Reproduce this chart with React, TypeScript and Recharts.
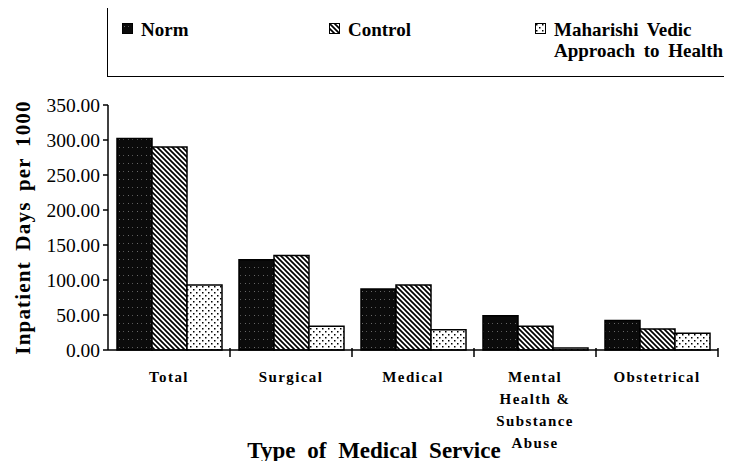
import { BarChart, Bar, XAxis, YAxis, Legend, Label } from "recharts"

const categories = ["Total", "Surgical", "Medical", "Mental Health & Substance Abuse", "Obstetrical"]
const tickLines = [["Total"], ["Surgical"], ["Medical"], ["Mental", "Health &", "Substance", "Abuse"], ["Obstetrical"]]
const normValues = [302, 129, 87, 49, 42]
const controlValues = [290, 135, 93, 34, 30]
const mvahValues = [93, 34, 29, 3, 24]
const yTicks = [0, 50, 100, 150, 200, 250, 300, 350]

const seriesNames = ["Norm", "Control", "Maharishi Vedic Approach to Health"]

const data = categories.map((c, i) => ({
  name: c,
  norm: normValues[i],
  control: controlValues[i],
  mvah: mvahValues[i],
}))

const serif = "Liberation Serif, DejaVu Serif, serif"

function Patterns() {
  return (
    <svg width={0} height={0} style={{ position: "absolute" }}>
      <defs>
        <pattern id="pNorm" patternUnits="userSpaceOnUse" width={9} height={8}>
          <rect width={9} height={8} fill="#0b0b0b" />
          <rect x={2} y={3} width={1} height={1} fill="#6a6a6a" />
          <rect x={6} y={3} width={1} height={1} fill="#555" />
        </pattern>
        <pattern id="pControl" patternUnits="userSpaceOnUse" width={5} height={5}>
          <rect width={5} height={5} fill="#fff" />
          <path d="M-1,-1 L6,6 M-1,4 L1,6 M4,-1 L6,1" stroke="#000" strokeWidth={1.7} />
        </pattern>
        <pattern id="pMvah" patternUnits="userSpaceOnUse" width={6} height={6}>
          <rect width={6} height={6} fill="#fff" />
          <rect x={1} y={1} width={1.5} height={1.5} fill="#000" />
          <rect x={4} y={4} width={1.5} height={1.5} fill="#000" />
        </pattern>
      </defs>
    </svg>
  )
}

function LegendBox() {
  const item = (left: number, fill: string, lines: string[]) => (
    <div style={{ position: "absolute", left, top: 13 }}>
      <svg width={11} height={11} style={{ position: "absolute", left: 0, top: 2 }}>
        <rect x={0.5} y={0.5} width={10} height={10} fill={fill} stroke="#000" />
      </svg>
      <div style={{ position: "absolute", left: 19, top: -2, whiteSpace: "nowrap", fontFamily: serif, fontWeight: 700, fontSize: 19, lineHeight: "21px", wordSpacing: 4 }}>
        {lines.map((l, i) => <div key={i}>{l}</div>)}
      </div>
    </div>
  )
  return (
    <div style={{ position: "relative", width: 640, height: 70, boxSizing: "border-box", borderTop: "1.5px solid #000", borderBottom: "1.5px solid #000", borderLeft: "1.5px solid #000", color: "#000" }}>
      {item(14, "url(#pNorm)", [seriesNames[0]])}
      {item(221, "url(#pControl)", [seriesNames[1]])}
      {item(427, "url(#pMvah)", ["Maharishi Vedic", "Approach to Health"])}
    </div>
  )
}

function CatTick(props: any) {
  const { x, y, payload } = props
  const idx = categories.indexOf(payload.value)
  const lines = tickLines[idx] || [payload.value]
  const half = payload.offset || 0
  return (
    <g>
      <line x1={x + half} x2={x + half} y1={y - 2} y2={y + 7} stroke="#000" strokeWidth={1.5} />
      <text x={x} y={y + 32} textAnchor="middle" fontFamily={serif} fontWeight={700} fontSize={15} letterSpacing={1.4} fill="#000">
        {lines.map((l, i) => (
          <tspan key={i} x={x} dy={i === 0 ? 0 : 22}>{l}</tspan>
        ))}
      </text>
    </g>
  )
}

export default function App() {
  return (
    <div style={{ width: 732, height: 469, margin: -8, position: "relative", overflow: "hidden", background: "#fff" }}>
      <Patterns />
      <BarChart width={732} height={469} data={data} margin={{ top: 35, right: 14, left: 48, bottom: 0 }} barGap={0} barCategoryGap={9}>
        <Legend
          verticalAlign="top"
          content={() => <LegendBox />}
          wrapperStyle={{ position: "absolute", top: 7, left: 107, width: 640, height: 70 }}
        />
        <XAxis
          dataKey="name"
          height={119}
          interval={0}
          tickLine={false}
          tickSize={0}
          tickMargin={0}
          axisLine={{ stroke: "#000", strokeWidth: 1.5 }}
          tick={<CatTick />}
        >
          <Label
            content={(p: any) => (
              <text x={p.viewBox.x + 266} y={458} textAnchor="middle" fontFamily={serif} fontWeight={700} fontSize={23} wordSpacing={6} fill="#000">
                Type of Medical Service
              </text>
            )}
          />
        </XAxis>
        <YAxis
          width={60}
          domain={[0, 350]}
          ticks={yTicks}
          interval={0}
          tickSize={5}
          tickMargin={3}
          tickFormatter={(v: number) => v.toFixed(2)}
          tick={{ fontFamily: serif, fontSize: 19.5, fill: "#000" }}
          tickLine={{ stroke: "#000", strokeWidth: 1.5 }}
          axisLine={{ stroke: "#000", strokeWidth: 1.5 }}
        >
          <Label
            content={(p: any) => {
              const cx = p.viewBox.x - 25
              const cy = p.viewBox.y + p.viewBox.height / 2
              return (
                <text x={cx} y={cy} transform={`rotate(-90 ${cx} ${cy})`} textAnchor="middle" dominantBaseline="central" fontFamily={serif} fontWeight={700} fontSize={21} letterSpacing={1.2} wordSpacing={4} fill="#000">
                  Inpatient Days per 1000
                </text>
              )
            }}
          />
        </YAxis>
        <Bar dataKey="norm" name={seriesNames[0]} fill="url(#pNorm)" stroke="#000" strokeWidth={1.5} isAnimationActive={false} />
        <Bar dataKey="control" name={seriesNames[1]} fill="url(#pControl)" stroke="#000" strokeWidth={1.5} isAnimationActive={false} />
        <Bar dataKey="mvah" name={seriesNames[2]} fill="url(#pMvah)" stroke="#000" strokeWidth={1.5} isAnimationActive={false} />
      </BarChart>
    </div>
  )
}
